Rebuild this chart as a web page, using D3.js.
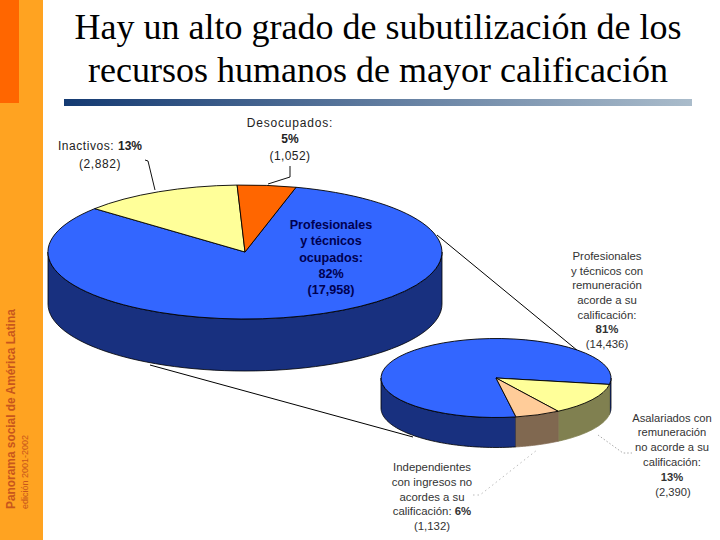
<!DOCTYPE html>
<html><head><meta charset="utf-8">
<script src="https://cdn.jsdelivr.net/npm/d3@7"></script>
<style>
html,body{margin:0;padding:0;background:#fff;overflow:hidden}
svg{display:block}
.lbl{font-family:"Liberation Sans",Arial,sans-serif;fill:#2a2a2a;text-anchor:middle}
.lbl .b{font-weight:bold}
</style></head><body>
<script>
const titleLines = ["Hay un alto grado de subutilización de los","recursos humanos de mayor calificación"];
const mainCategories = ["Profesionales y técnicos ocupados","Inactivos","Desocupados"];
const mainValues = [17958,2882,1052];
const mainTop = ["#3366ff","#ffff99","#ff6600"];
const mainSide = ["#18307f","#808050","#803300"];
const subCategories = ["Profesionales con remuneración acorde","Asalariados no acorde","Independientes no acordes"];
const subValues = [14436,2390,1132];
const subTop = ["#3366ff","#ffff99","#ffcc99"];
const subSide = ["#18307f","#808050","#806850"];
// rows: x, baseline y, font size, colour, parts [text, bold, letter spacing]
const labelRows = [
 [100,150,12,"#222",[["Inactivos: ",0,.55],["13%",1,0]]],[100,168,12,"#222",[["(2,882)",0,.6]]],
 [290,127,12,"#222",[["Desocupados:",0,.8]]],[290,143,12,"#222",[["5%",1,0]]],[290,160,12,"#222",[["(1,052)",0,.4]]],
 [331,229,12.6,"#000050",[["Profesionales",1,0]]],[331,245,12.6,"#000050",[["y técnicos",1,0]]],[331,262,12.6,"#000050",[["ocupados:",1,0]]],[331,278,12.6,"#000050",[["82%",1,0]]],[331,294,12.6,"#000050",[["(17,958)",1,0]]],
 [607,260,11.4,"#333",[["Profesionales",0,0]]],[607,275,11.4,"#333",[["y técnicos con",0,0]]],[607,289,11.4,"#333",[["remuneración",0,0]]],[607,304,11.4,"#333",[["acorde a su",0,0]]],[607,319,11.4,"#333",[["calificación:",0,0]]],[607,333,11.4,"#333",[["81%",1,0]]],[607,348,11.4,"#333",[["(14,436)",0,0]]],
 [672,422,11.2,"#333",[["Asalariados con",0,0]]],[672,436,11.2,"#333",[["remuneración",0,0]]],[672,451,11.2,"#333",[["no acorde a su",0,0]]],[672,466,11.2,"#333",[["calificación:",0,0]]],[672,481,11.2,"#333",[["13%",1,0]]],[673,496,11.2,"#333",[["(2,390)",0,0]]],
 [432,471,11.4,"#333",[["Independientes",0,0]]],[432,486,11.4,"#333",[["con ingresos no",0,0]]],[432,501,11.4,"#333",[["acordes a su",0,0]]],[432,515,11.4,"#333",[["calificación: ",0,0],["6%",1,0]]],[432,530,11.4,"#333",[["(1,132)",0,0]]]
];
const W=720,H=540;
const svg=d3.select("body").append("svg").attr("width",W).attr("height",H);
const defs=svg.append("defs");
const g=defs.append("linearGradient").attr("id","rule");
g.append("stop").attr("offset",0).attr("stop-color","#143a72");
g.append("stop").attr("offset",1).attr("stop-color","#aabccb");
svg.append("rect").attr("width",W).attr("height",H).attr("fill","#fff");
svg.append("rect").attr("width",43).attr("height",H).attr("fill","#ffa321");
svg.append("rect").attr("width",19).attr("height",103).attr("fill","#ff6600");
svg.append("rect").attr("x",64).attr("y",99).attr("width",628).attr("height",7).attr("fill","url(#rule)");
svg.selectAll(".title").data(titleLines).join("text").attr("x",378).attr("y",(d,i)=>39+i*42.5)
 .attr("text-anchor","middle").attr("font-family","Liberation Serif").attr("font-size",36).attr("fill","#000").text(d=>d);
svg.append("text").attr("transform","translate(15,509) rotate(-90)").attr("font-family","Liberation Sans").attr("font-weight","bold")
 .attr("font-size",11.9).attr("fill","#c8561c").text("Panorama social de América Latina");
svg.append("text").attr("transform","translate(28,509) rotate(-90)").attr("font-family","Liberation Sans")
 .attr("font-size",9).attr("fill","#c8561c").text("edición 2001-2002");

const line=d3.line();
function seg(pts,col,w,dash){const p=svg.append("path").attr("d",line(pts)).attr("fill","none").attr("stroke",col).attr("stroke-width",w);if(dash)p.attr("stroke-dasharray",dash);}
seg([[437,235],[578,351]],"#000",1);
seg([[150,365],[413,437]],"#000",1);
seg([[145,160],[148,161],[155,190]],"#111",1);
seg([[290,166],[290,177],[268,184]],"#111",1);
seg([[598,435],[623,453],[632,453]],"#aaa",1,"1.5 2");
seg([[473,495],[480,495],[537,450]],"#bbb",1,"1.5 3");

function pie3d(values,top,side,cx,cy,rx,ry,depth,start){
  const arcs=d3.pie().sort(null).startAngle(start).endAngle(start+2*Math.PI)(values);
  const root=svg.append("g");
  const P=a=>[cx+rx*Math.sin(a),cy-ry*Math.cos(a)];
  arcs.forEach((a,i)=>{
    for(const k of [0,1]){
      const lo=Math.max(a.startAngle,Math.PI/2+k*2*Math.PI),hi=Math.min(a.endAngle,1.5*Math.PI+k*2*Math.PI);
      if(hi<=lo)continue;
      const pts=d3.range(0,61).map(j=>P(lo+(hi-lo)*j/60));
      const wall=pts.concat(pts.slice().reverse().map(p=>[p[0],p[1]+depth]));
      root.append("path").attr("d",line(wall)+"Z").attr("fill",side[i])
        .attr("stroke",i===0?"#000":side[i]).attr("stroke-width",.8).attr("stroke-linejoin","round");
    }
  });
  const face=root.append("g").attr("transform",`translate(${cx},${cy}) scale(${rx},${ry})`);
  const arc=d3.arc().innerRadius(0).outerRadius(1);
  face.selectAll("path").data(arcs).join("path").attr("d",arc).attr("fill",(d,i)=>top[i])
    .attr("stroke","#000").attr("stroke-width",.9).attr("vector-effect","non-scaling-stroke").attr("stroke-linejoin","round");
}
const rad=d=>d*Math.PI/180;
pie3d(mainValues,mainTop,mainSide,245,252,197,67,52,rad(15));
pie3d(subValues,subTop,subSide,496,378,115,39.5,30,rad(170));

const t=svg.selectAll(".lbl").data(labelRows).join("text").attr("class","lbl")
  .attr("x",d=>d[0]).attr("y",d=>d[1]).attr("font-size",d=>d[2]).style("fill",d=>d[3]);
t.each(function(d){
  const e=d3.select(this);
  d[4].forEach(p=>e.append("tspan").attr("class",p[1]?"b":null).attr("letter-spacing",p[2]||null).text(p[0]));
});
</script></body></html>
